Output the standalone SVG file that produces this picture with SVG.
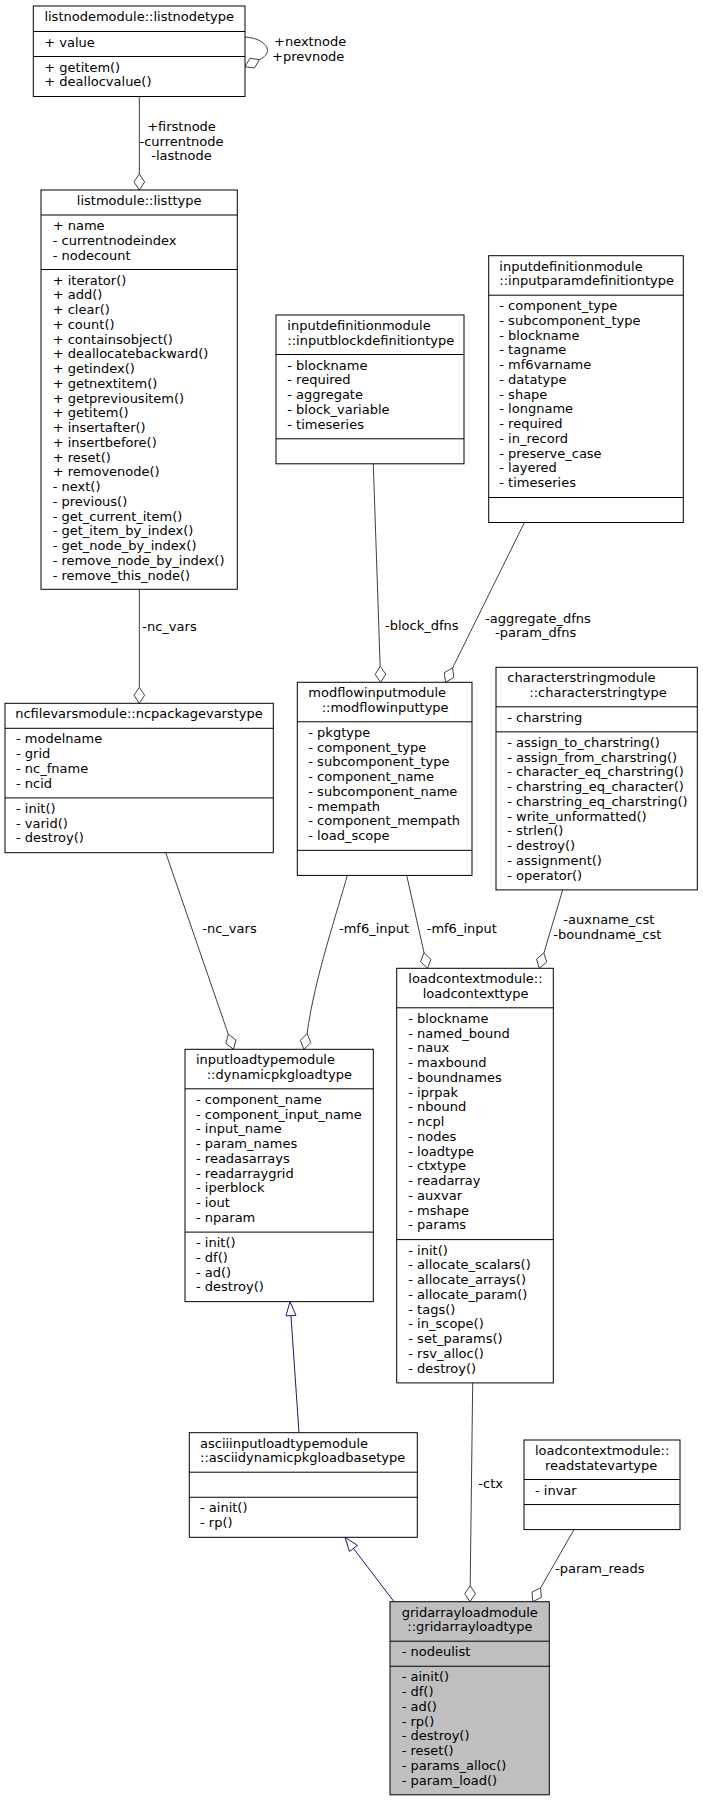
<svg xmlns="http://www.w3.org/2000/svg" width="703" height="1801" viewBox="0 0 703 1801">
<style>
text{font-family:"DejaVu Sans","Noto Sans",sans-serif;font-size:13px;fill:#000}
.box{fill:#fff;stroke:#000;stroke-width:1}
.sel{fill:#bfbfbf;stroke:#000;stroke-width:1}
.sep{stroke:#000;stroke-width:1;fill:none}
.edge{stroke:#404040;stroke-width:1;fill:none}
.dia{fill:#fff;stroke:#404040;stroke-width:1}
.inh{stroke:#191970;stroke-width:1;fill:none}
.tri{fill:#fff;stroke:#191970;stroke-width:1}
.m{text-anchor:middle}
</style>
<rect width="703" height="1801" fill="#fff"/>
<g id="connectors">
  <!-- self loop listnodetype -->
  <path class="edge" d="M245.2,37 C265,38 276,52 259.4,59.6"/>
  <polygon class="dia" points="245,66.7 254.5,68 259.4,59.6 249.8,58.4"/>
  <text x="274" y="46">+nextnode</text>
  <text x="272" y="61">+prevnode</text>
  <!-- listnode -> listtype -->
  <path class="edge" d="M139.3,96.5 L139.3,174"/>
  <polygon class="dia" points="139.3,190 144.6,182 139.3,174 134,182"/>
  <text class="m" x="181.5" y="131">+firstnode</text>
  <text class="m" x="181.5" y="145.5">-currentnode</text>
  <text class="m" x="181.5" y="160">-lastnode</text>
  <!-- listtype -> ncpackagevarstype -->
  <path class="edge" d="M139.3,589.3 L139.3,687.3"/>
  <polygon class="dia" points="139.3,703.3 144.6,695.3 139.3,687.3 134,695.3"/>
  <text x="142.3" y="630.7">-nc_vars</text>
  <!-- inputblockdefinition -> modflowinput -->
  <path class="edge" d="M373.3,463.8 L380.16,666.3"/>
  <polygon class="dia" points="380.7,682.3 385.76,674.12 380.16,666.3 375.1,674.48"/>
  <text x="385" y="630">-block_dfns</text>
  <!-- inputparamdefinition -> modflowinput -->
  <path class="edge" d="M524.4,522.5 L452.6,667.95"/>
  <polygon class="dia" points="445.5,682.3 453.82,677.46 452.6,667.95 444.26,672.74"/>
  <text x="485" y="622.7">-aggregate_dfns</text>
  <text x="495" y="637.3">-param_dfns</text>
  <!-- ncpackagevarstype -> dynamicpkgloadtype -->
  <path class="edge" d="M165.7,852.7 L228.28,1034.18"/>
  <polygon class="dia" points="233.5,1049.3 235.93,1040 228.28,1034.18 225.85,1043.48"/>
  <text x="202.3" y="932.7">-nc_vars</text>
  <!-- modflowinput -> dynamicpkgloadtype -->
  <path class="edge" d="M347.3,875.4 C339,906 314,980 307.07,1033.6"/>
  <polygon class="dia" points="304,1049.3 310.77,1042.47 307.07,1033.6 300.31,1040.43"/>
  <text x="339" y="932.7">-mf6_input</text>
  <!-- modflowinput -> loadcontexttype -->
  <path class="edge" d="M406.7,875.4 L424,952.7"/>
  <polygon class="dia" points="427.5,968.3 430.95,959.34 424,952.7 420.55,961.66"/>
  <text x="426.7" y="932.7">-mf6_input</text>
  <!-- characterstring -> loadcontexttype -->
  <path class="edge" d="M562.7,889.9 L543.9,953"/>
  <polygon class="dia" points="539.3,968.3 546.7,962.1 543.9,953 536.5,959.1"/>
  <text x="563.3" y="924.3">-auxname_cst</text>
  <text x="553.3" y="939">-boundname_cst</text>
  <!-- inheritance: ascii -> dynamicpkgloadtype -->
  <path class="inh" d="M299,1432.7 L290.96,1315.6"/>
  <polygon class="tri" points="290,1301.65 295.95,1315.3 285.97,1315.9"/>
  <!-- inheritance: gridarray -> ascii -->
  <path class="inh" d="M394,1601.7 L353.48,1548.44"/>
  <polygon class="tri" points="345,1537.3 357.46,1545.41 349.5,1551.47"/>
  <!-- loadcontexttype -> gridarray -->
  <path class="edge" d="M472.7,1382.9 L470.2,1585.7"/>
  <polygon class="dia" points="470,1601.7 475.43,1593.77 470.2,1585.7 464.77,1593.63"/>
  <text x="478.3" y="1488.3">-ctx</text>
  <!-- readstatevartype -> gridarray -->
  <path class="edge" d="M574,1529.6 L540.65,1587.8"/>
  <polygon class="dia" points="532.7,1601.7 541.3,1597.4 540.65,1587.8 532.06,1592.1"/>
  <text x="555" y="1572.7">-param_reads</text>
</g>

<g id="listnodetype">
  <rect class="box" x="33.3" y="6" width="211.7" height="90.5"/>
  <path class="sep" d="M33.3,31.5 H245 M33.3,56.5 H245"/>
  <text class="m" x="139.2" y="21">listnodemodule::listnodetype</text>
  <text x="44.3" y="46.5">+ value</text>
  <text x="44.3" y="71.5">+ getitem()<tspan x="44.3" dy="14.75">+ deallocvalue()</tspan></text>
</g>

<g id="listtype">
  <rect class="box" x="41" y="190" width="196.3" height="399.3"/>
  <path class="sep" d="M41,215 H237.3 M41,269.5 H237.3"/>
  <text class="m" x="139.2" y="205">listmodule::listtype</text>
  <text x="52.7" y="230">+ name<tspan x="52.7" dy="14.75">- currentnodeindex</tspan><tspan x="52.7" dy="14.75">- nodecount</tspan></text>
  <text x="52.7" y="284.5">+ iterator()<tspan x="52.7" dy="14.75">+ add()</tspan><tspan x="52.7" dy="14.75">+ clear()</tspan><tspan x="52.7" dy="14.75">+ count()</tspan><tspan x="52.7" dy="14.75">+ containsobject()</tspan><tspan x="52.7" dy="14.75">+ deallocatebackward()</tspan><tspan x="52.7" dy="14.75">+ getindex()</tspan><tspan x="52.7" dy="14.75">+ getnextitem()</tspan><tspan x="52.7" dy="14.75">+ getpreviousitem()</tspan><tspan x="52.7" dy="14.75">+ getitem()</tspan><tspan x="52.7" dy="14.75">+ insertafter()</tspan><tspan x="52.7" dy="14.75">+ insertbefore()</tspan><tspan x="52.7" dy="14.75">+ reset()</tspan><tspan x="52.7" dy="14.75">+ removenode()</tspan><tspan x="52.7" dy="14.75">- next()</tspan><tspan x="52.7" dy="14.75">- previous()</tspan><tspan x="52.7" dy="14.75">- get_current_item()</tspan><tspan x="52.7" dy="14.75">- get_item_by_index()</tspan><tspan x="52.7" dy="14.75">- get_node_by_index()</tspan><tspan x="52.7" dy="14.75">- remove_node_by_index()</tspan><tspan x="52.7" dy="14.75">- remove_this_node()</tspan></text>
</g>

<g id="inputblockdefinitiontype">
  <rect class="box" x="276" y="315" width="188" height="148.8"/>
  <path class="sep" d="M276,354.5 H464 M276,438.8 H464"/>
  <text x="287.3" y="330">inputdefinitionmodule<tspan x="287.3" dy="14.75">::inputblockdefinitiontype</tspan></text>
  <text x="287.3" y="369.5">- blockname<tspan x="287.3" dy="14.75">- required</tspan><tspan x="287.3" dy="14.75">- aggregate</tspan><tspan x="287.3" dy="14.75">- block_variable</tspan><tspan x="287.3" dy="14.75">- timeseries</tspan></text>
</g>

<g id="inputparamdefinitiontype">
  <rect class="box" x="488.7" y="255.7" width="194.6" height="266.8"/>
  <path class="sep" d="M488.7,295.2 H683.3 M488.7,497.5 H683.3"/>
  <text x="499.3" y="270.7">inputdefinitionmodule<tspan x="499.3" dy="14.75">::inputparamdefinitiontype</tspan></text>
  <text x="499.3" y="310.2">- component_type<tspan x="499.3" dy="14.75">- subcomponent_type</tspan><tspan x="499.3" dy="14.75">- blockname</tspan><tspan x="499.3" dy="14.75">- tagname</tspan><tspan x="499.3" dy="14.75">- mf6varname</tspan><tspan x="499.3" dy="14.75">- datatype</tspan><tspan x="499.3" dy="14.75">- shape</tspan><tspan x="499.3" dy="14.75">- longname</tspan><tspan x="499.3" dy="14.75">- required</tspan><tspan x="499.3" dy="14.75">- in_record</tspan><tspan x="499.3" dy="14.75">- preserve_case</tspan><tspan x="499.3" dy="14.75">- layered</tspan><tspan x="499.3" dy="14.75">- timeseries</tspan></text>
</g>

<g id="ncpackagevarstype">
  <rect class="box" x="5" y="703.3" width="268.3" height="149.4"/>
  <path class="sep" d="M5,728.3 H273.3 M5,797.9 H273.3"/>
  <text class="m" x="139" y="718.3">ncfilevarsmodule::ncpackagevarstype</text>
  <text x="16" y="743.3">- modelname<tspan x="16" dy="14.75">- grid</tspan><tspan x="16" dy="14.75">- nc_fname</tspan><tspan x="16" dy="14.75">- ncid</tspan></text>
  <text x="16" y="812.9">- init()<tspan x="16" dy="14.75">- varid()</tspan><tspan x="16" dy="14.75">- destroy()</tspan></text>
</g>

<g id="modflowinputtype">
  <rect class="box" x="297.3" y="682.3" width="174.7" height="193.1"/>
  <path class="sep" d="M297.3,721.8 H472 M297.3,850.35 H472"/>
  <text x="308.3" y="697.3">modflowinputmodule</text>
  <text x="321.7" y="712.05">::modflowinputtype</text>
  <text x="308.3" y="736.8">- pkgtype<tspan x="308.3" dy="14.75">- component_type</tspan><tspan x="308.3" dy="14.75">- subcomponent_type</tspan><tspan x="308.3" dy="14.75">- component_name</tspan><tspan x="308.3" dy="14.75">- subcomponent_name</tspan><tspan x="308.3" dy="14.75">- mempath</tspan><tspan x="308.3" dy="14.75">- component_mempath</tspan><tspan x="308.3" dy="14.75">- load_scope</tspan></text>
</g>

<g id="characterstringtype">
  <rect class="box" x="496" y="667.3" width="201.3" height="222.6"/>
  <path class="sep" d="M496,706.8 H697.3 M496,731.85 H697.3"/>
  <text x="507.3" y="682.3">characterstringmodule</text>
  <text x="529.3" y="697.05">::characterstringtype</text>
  <text x="507.3" y="721.8">- charstring</text>
  <text x="507.3" y="746.85">- assign_to_charstring()<tspan x="507.3" dy="14.75">- assign_from_charstring()</tspan><tspan x="507.3" dy="14.75">- character_eq_charstring()</tspan><tspan x="507.3" dy="14.75">- charstring_eq_character()</tspan><tspan x="507.3" dy="14.75">- charstring_eq_charstring()</tspan><tspan x="507.3" dy="14.75">- write_unformatted()</tspan><tspan x="507.3" dy="14.75">- strlen()</tspan><tspan x="507.3" dy="14.75">- destroy()</tspan><tspan x="507.3" dy="14.75">- assignment()</tspan><tspan x="507.3" dy="14.75">- operator()</tspan></text>
</g>

<g id="loadcontexttype">
  <rect class="box" x="396.7" y="968.3" width="156.6" height="414.6"/>
  <path class="sep" d="M396.7,1007.8 H553.3 M396.7,1239.6 H553.3"/>
  <text x="408.3" y="983.3">loadcontextmodule::</text>
  <text x="422.7" y="998.05">loadcontexttype</text>
  <text x="408.3" y="1022.8">- blockname<tspan x="408.3" dy="14.75">- named_bound</tspan><tspan x="408.3" dy="14.75">- naux</tspan><tspan x="408.3" dy="14.75">- maxbound</tspan><tspan x="408.3" dy="14.75">- boundnames</tspan><tspan x="408.3" dy="14.75">- iprpak</tspan><tspan x="408.3" dy="14.75">- nbound</tspan><tspan x="408.3" dy="14.75">- ncpl</tspan><tspan x="408.3" dy="14.75">- nodes</tspan><tspan x="408.3" dy="14.75">- loadtype</tspan><tspan x="408.3" dy="14.75">- ctxtype</tspan><tspan x="408.3" dy="14.75">- readarray</tspan><tspan x="408.3" dy="14.75">- auxvar</tspan><tspan x="408.3" dy="14.75">- mshape</tspan><tspan x="408.3" dy="14.75">- params</tspan></text>
  <text x="408.3" y="1254.6">- init()<tspan x="408.3" dy="14.75">- allocate_scalars()</tspan><tspan x="408.3" dy="14.75">- allocate_arrays()</tspan><tspan x="408.3" dy="14.75">- allocate_param()</tspan><tspan x="408.3" dy="14.75">- tags()</tspan><tspan x="408.3" dy="14.75">- in_scope()</tspan><tspan x="408.3" dy="14.75">- set_params()</tspan><tspan x="408.3" dy="14.75">- rsv_alloc()</tspan><tspan x="408.3" dy="14.75">- destroy()</tspan></text>
</g>

<g id="dynamicpkgloadtype">
  <rect class="box" x="185" y="1049.3" width="188.3" height="252.35"/>
  <path class="sep" d="M185,1088.8 H373.3 M185,1232.1 H373.3"/>
  <text x="196" y="1064.3">inputloadtypemodule</text>
  <text x="206.7" y="1079.05">::dynamicpkgloadtype</text>
  <text x="196" y="1103.8">- component_name<tspan x="196" dy="14.75">- component_input_name</tspan><tspan x="196" dy="14.75">- input_name</tspan><tspan x="196" dy="14.75">- param_names</tspan><tspan x="196" dy="14.75">- readasarrays</tspan><tspan x="196" dy="14.75">- readarraygrid</tspan><tspan x="196" dy="14.75">- iperblock</tspan><tspan x="196" dy="14.75">- iout</tspan><tspan x="196" dy="14.75">- nparam</tspan></text>
  <text x="196" y="1247.1">- init()<tspan x="196" dy="14.75">- df()</tspan><tspan x="196" dy="14.75">- ad()</tspan><tspan x="196" dy="14.75">- destroy()</tspan></text>
</g>

<g id="asciidynamicpkgloadbasetype">
  <rect class="box" x="189.3" y="1432.7" width="228" height="104.6"/>
  <path class="sep" d="M189.3,1472.2 H417.3 M189.3,1497.25 H417.3"/>
  <text x="200" y="1447.7">asciiinputloadtypemodule<tspan x="200" dy="14.75">::asciidynamicpkgloadbasetype</tspan></text>
  <text x="200" y="1512.25">- ainit()<tspan x="200" dy="14.75">- rp()</tspan></text>
</g>

<g id="readstatevartype">
  <rect class="box" x="524" y="1440" width="156" height="89.6"/>
  <path class="sep" d="M524,1479.5 H680 M524,1504.55 H680"/>
  <text x="535" y="1455">loadcontextmodule::</text>
  <text x="545" y="1469.75">readstatevartype</text>
  <text x="535" y="1494.5">- invar</text>
</g>

<g id="gridarrayloadtype">
  <rect class="sel" x="390" y="1601.7" width="159.3" height="193.1"/>
  <path class="sep" d="M390,1641.2 H549.3 M390,1666.25 H549.3"/>
  <text x="401.7" y="1616.7">gridarrayloadmodule</text>
  <text x="407.3" y="1631.45">::gridarrayloadtype</text>
  <text x="401.7" y="1656.2">- nodeulist</text>
  <text x="401.7" y="1681.25">- ainit()<tspan x="401.7" dy="14.75">- df()</tspan><tspan x="401.7" dy="14.75">- ad()</tspan><tspan x="401.7" dy="14.75">- rp()</tspan><tspan x="401.7" dy="14.75">- destroy()</tspan><tspan x="401.7" dy="14.75">- reset()</tspan><tspan x="401.7" dy="14.75">- params_alloc()</tspan><tspan x="401.7" dy="14.75">- param_load()</tspan></text>
</g>
</svg>
